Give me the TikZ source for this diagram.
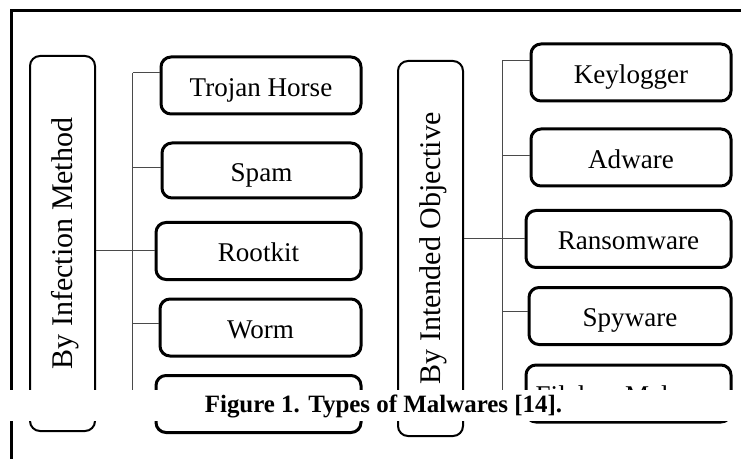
\documentclass[tikz,border=0pt]{standalone}
\usepackage{fontspec}
\setmainfont{Liberation Serif}
\definecolor{ink}{HTML}{000000}
\definecolor{wire}{HTML}{4A4A4A}
\tikzset{
  leaf/.style={rectangle, draw=ink, line width=2.25pt, rounded corners=7.5pt, minimum width=150pt, minimum height=42.75pt, inner sep=0pt, text height=15.8pt, text depth=0pt, font=\fontsize{20.3}{24}\selectfont},
  wideleaf/.style={leaf, minimum width=153.75pt},
  group/.style={rectangle, draw=ink, line width=1.5pt, rounded corners=7.5pt, minimum width=48.75pt, minimum height=281.25pt},
  grouplabel/.style={rotate=90, font=\fontsize{22.5}{27}\selectfont, inner sep=0pt, text height=15pt, text depth=0pt},
  link/.style={draw=wire, line width=0.75pt},
  frame/.style={draw=ink, line width=2pt},
  caption/.style={font=\fontsize{18.7}{22}\selectfont\bfseries, inner sep=0pt},
}

\begin{document}
\begin{tikzpicture}[x=0.75pt, y=-0.75pt]
  \useasboundingbox (0,0) rectangle (741,459);
  \draw[frame] (741,10.7) -- (11.5,10.7) -- (11.5,459);
  % infection method
  \node[group] (infect) at (62.5,243.5) {};
  \node[grouplabel] (infectlabel) at (infect.center) {By Infection Method};
  \node[leaf] (trojan) at (261,85.5) {Trojan Horse};
  \node[leaf, minimum width=149.25pt, minimum height=41.25pt] (spam) at (261.5,170.5) {Spam};
  \node[wideleaf] (rootkit) at (258.5,251) {Rootkit};
  \node[leaf, minimum width=150.75pt] (worm) at (260.5,327.5) {Worm};
  \node[wideleaf] (lastleft) at (258.5,404) {};
  % intended objective
  \node[group] (objective) at (430.5,248.5) {};
  \node[grouplabel] (objectivelabel) at (objective.center) {By Intended Objective};
  \node[leaf] (keylog) at (631,72.5) {Keylogger};
  \node[leaf] (adware) at (631,157.5) {Adware};
  \node[wideleaf] (ransom) at (628.5,239) {Ransomware};
  \node[leaf, minimum width=151.5pt] (spyware) at (630,316) {Spyware};
  \node[wideleaf] (fileless) at (628.5,393.5) {Fileless Malware};
  % left tree
  \coordinate (ltop) at (132.5,73);
  \coordinate (lspam) at (132.5,168);
  \coordinate (lworm) at (132.5,323);
  \coordinate (lbot) at (132.5,400);
  \draw[link] (ltop) -- (lbot);
  \draw[link] (ltop) -- (ltop -| trojan.west);
  \draw[link] (lspam) -- (lspam -| spam.west);
  \draw[link] (lworm) -- (lworm -| worm.west);
  \draw[link] (lbot) -- (lbot -| lastleft.west);
  \draw[link] (infect.east |- rootkit.west) -- (rootkit.west);
  % right tree
  \coordinate (rtop) at (502,61);
  \coordinate (radware) at (502,156);
  \coordinate (rspy) at (502,311);
  \coordinate (rbot) at (502,395);
  \draw[link] (rtop) -- (rbot);
  \draw[link] (rtop) -- (rtop -| keylog.west);
  \draw[link] (radware) -- (radware -| adware.west);
  \draw[link] (rspy) -- (rspy -| spyware.west);
  \draw[link] (rbot) -- (rbot -| fileless.west);
  \draw[link] (objective.east |- ransom.west) -- (ransom.west);
  % caption band
  \fill[white] (9.5,390) rectangle (741,421);
  \node[caption, anchor=base] (title) at (383.5,412) {Figure 1. Types of Malwares [14].};
\end{tikzpicture}
\end{document}
